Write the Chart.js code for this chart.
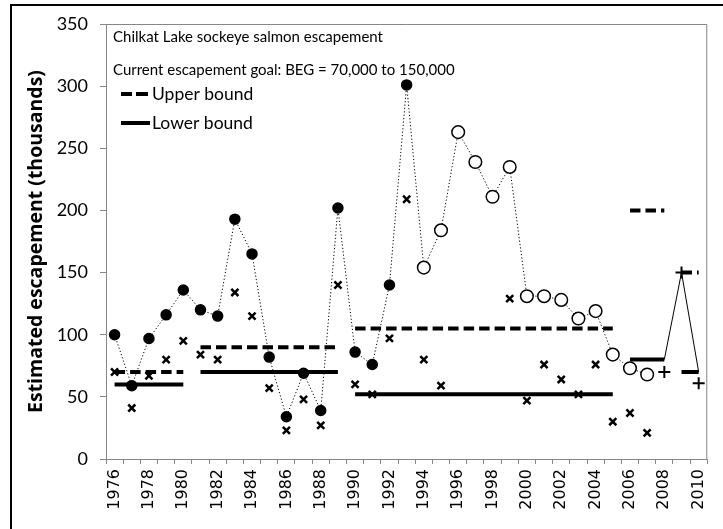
<!DOCTYPE html>
<html>
<head>
<meta charset="utf-8">
<script src="https://cdn.jsdelivr.net/npm/chart.js@4"></script>
<style>
    html, body { margin: 0; padding: 0; background: #fff; }
    #wrap { width: 723px; height: 529px; }
</style>
</head>
<body>
<div id="wrap"><canvas id="escChart" width="723" height="529"></canvas></div>
<script>
// Years on the x axis
const years = ['1976', '1977', '1978', '1979', '1980', '1981', '1982', '1983', '1984', '1985',
    '1986', '1987', '1988', '1989', '1990', '1991', '1992', '1993', '1994', '1995',
    '1996', '1997', '1998', '1999', '2000', '2001', '2002', '2003', '2004', '2005',
    '2006', '2007', '2008', '2009', '2010'];

// Escapement estimates (thousands), circles joined by the dotted line
const escapement = [100, 59, 97, 116, 136, 120, 115, 193, 165, 82,
    34, 69, 39, 202, 86, 76, 140, 301, 154, 184,
    263, 239, 211, 235, 131, 131, 128, 113, 119, 84,
    73, 68, null, null, null];
const lastFilledYear = '1993';

// Second estimate (x markers)
const indexCounts = [70, 41, 67, 80, 95, 84, 80, 134, 115, 57,
    23, 48, 27, 140, 60, 52, 97, 209, 80, 59,
    null, null, null, 129, 47, 76, 64, 52, 76, 30,
    37, 21, null, null, null];

// Recent counts (+ markers)
const recentCounts = [null, null, null, null, null, null, null, null, null, null,
    null, null, null, null, null, null, null, null, null, null,
    null, null, null, null, null, null, null, null, null, null,
    null, null, 70, 150, 61];

// Goal range bounds for each year
const upperBound = [70, 70, 70, 70, 70, 90, 90, 90, 90, 90,
    90, 90, 90, 90, 105, 105, 105, 105, 105, 105,
    105, 105, 105, 105, 105, 105, 105, 105, 105, 105,
    200, 200, 200, 150, 150];
const lowerBound = [60, 60, 60, 60, 60, 70, 70, 70, 70, 70,
    70, 70, 70, 70, 52, 52, 52, 52, 52, 52,
    52, 52, 52, 52, 52, 52, 52, 52, 52, 52,
    80, 80, 80, 70, 70];
const boundLink = [null, null, null, null, null, null, null, null, null, null,
    null, null, null, null, null, null, null, null, null, null,
    null, null, null, null, null, null, null, null, null, null,
    null, null, 80, 150, 70];

const yTicks = { min: 0, max: 350, step: 50 };

const textFont = 'Lato, "Open Sans", sans-serif';
const axisGray = '#868686';

// only draw a goal segment while the bound stays the same
const flatOnly = {
    borderColor: c => c.p0.parsed.y === c.p1.parsed.y ? '#000' : 'rgba(0,0,0,0)'
};

const filledIdx = years.indexOf(lastFilledYear);

// frame, plot border, caption and legend
const decorations = {
    id: 'decorations',
    beforeDraw(chart) {
        const c = chart.ctx;
        c.save();
        c.fillStyle = '#fff';
        c.fillRect(0, 0, chart.width, chart.height);
        c.fillStyle = '#000';
        c.fillRect(10, 4, 2, chart.height);
        c.fillRect(10, 4, chart.width, 2);
        c.restore();
    },
    afterDraw(chart) {
        const c = chart.ctx;
        const a = chart.chartArea;
        c.save();
        c.strokeStyle = axisGray;
        c.lineWidth = 1;
        c.beginPath();
        c.moveTo(a.left, a.top + 0.5);
        c.lineTo(a.right - 0.5, a.top + 0.5);
        c.lineTo(a.right - 0.5, a.bottom);
        c.stroke();

        c.fillStyle = '#000';
        c.textBaseline = 'alphabetic';
        c.font = '15px ' + textFont;
        c.fillText('Chilkat Lake sockeye salmon escapement', 113, 42);
        c.fillText('Current escapement goal: BEG = 70,000 to 150,000', 113, 75);
        c.font = '17.5px ' + textFont;
        c.fillText('Upper bound', 152, 100);
        c.fillText('Lower bound', 152, 129);

        c.strokeStyle = '#000';
        c.lineWidth = 4;
        c.beginPath();
        c.moveTo(121, 94); c.lineTo(132, 94);
        c.moveTo(136, 94); c.lineTo(148, 94);
        c.moveTo(121, 123); c.lineTo(150, 123);
        c.stroke();
        c.restore();
    }
};

const ctx = document.getElementById('escChart').getContext('2d');

new Chart(ctx, {
    type: 'line',
    data: {
        labels: years,
        datasets: [
            {
                label: 'Escapement',
                data: escapement,
                borderColor: '#000',
                borderWidth: 1,
                borderDash: [1.2, 2.2],
                pointRadius: c => c.dataIndex <= filledIdx ? 5 : 6.3,
                pointBackgroundColor: c => c.dataIndex <= filledIdx ? '#000' : '#fff',
                pointBorderColor: '#000',
                pointBorderWidth: 1.5
            },
            {
                label: 'Index',
                data: indexCounts,
                showLine: false,
                pointStyle: 'crossRot',
                pointRadius: 5,
                pointBorderWidth: 2.5,
                borderColor: '#000'
            },
            {
                label: 'Recent',
                data: recentCounts,
                showLine: false,
                pointStyle: 'cross',
                pointRadius: 6,
                pointBorderWidth: 2,
                borderColor: '#000'
            },
            {
                label: 'Link',
                data: boundLink,
                borderColor: '#000',
                borderWidth: 1,
                pointRadius: 0
            },
            {
                label: 'Upper bound',
                data: upperBound,
                borderColor: '#000',
                borderWidth: 4,
                borderDash: [10.5, 5],
                pointRadius: 0,
                segment: flatOnly
            },
            {
                label: 'Lower bound',
                data: lowerBound,
                borderColor: '#000',
                borderWidth: 4,
                pointRadius: 0,
                segment: flatOnly
            }
        ]
    },
    options: {
        responsive: false,
        animation: false,
        layout: { padding: { top: 24, right: 4, left: 0, bottom: 0 } },
        plugins: {
            legend: { display: false },
            tooltip: { enabled: false }
        },
        scales: {
            x: {
                type: 'category',
                offset: true,
                grid: { offset: true, drawOnChartArea: false, tickLength: 5, color: axisGray },
                border: { color: axisGray },
                ticks: {
                    autoSkip: false,
                    maxRotation: 90,
                    minRotation: 90,
                    padding: 5,
                    color: '#000',
                    font: { family: '"DejaVu Sans", sans-serif', size: 16 },
                    callback: (v, i) => i % 2 === 0 ? years[i] : ''
                },
                afterFit: s => { s.height = 70; }
            },
            y: {
                min: yTicks.min,
                max: yTicks.max,
                grid: { drawOnChartArea: false, tickLength: 6, color: axisGray },
                border: { color: axisGray },
                ticks: {
                    stepSize: yTicks.step,
                    padding: 12,
                    color: '#000',
                    font: { family: textFont, size: 18 }
                },
                title: {
                    display: true,
                    text: 'Estimated escapement (thousands)',
                    color: '#000',
                    font: { family: '"Open Sans", sans-serif', size: 19.5, weight: 'bold' },
                    padding: { top: 25, bottom: 0 }
                },
                afterFit: s => { s.width = 106; }
            }
        }
    },
    plugins: [decorations]
});
</script>
</body>
</html>
